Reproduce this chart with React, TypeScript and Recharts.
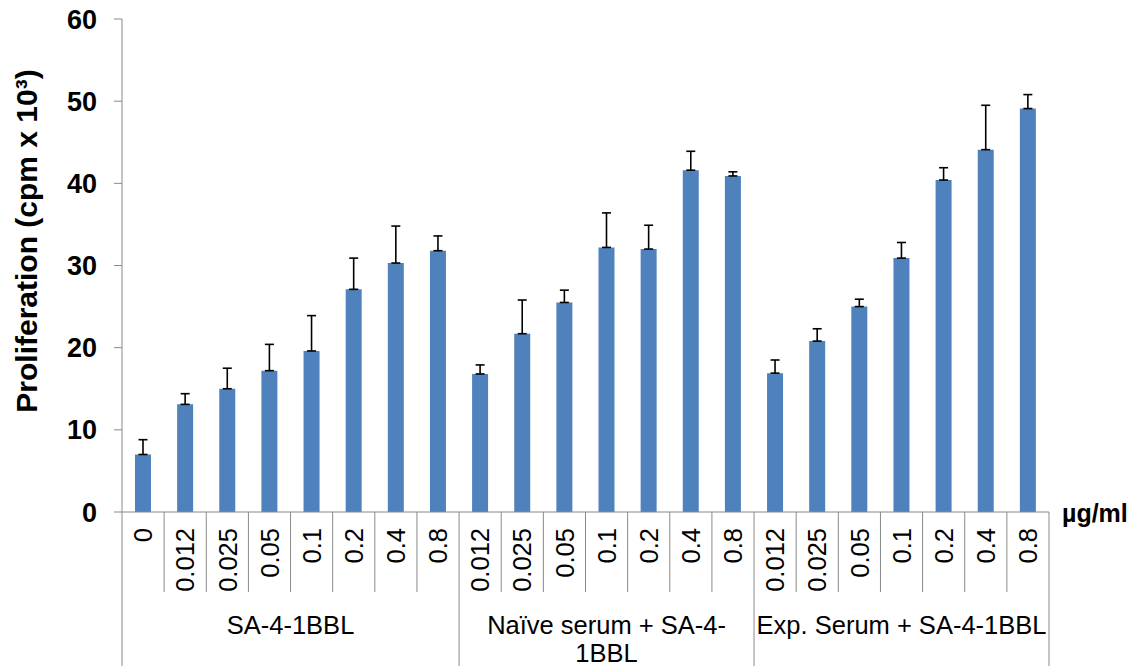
import React from "react";
import { BarChart, Bar, XAxis, YAxis, ErrorBar } from "recharts";

const categories = ["0", "0.012", "0.025", "0.05", "0.1", "0.2", "0.4", "0.8", "0.012", "0.025", "0.05", "0.1", "0.2", "0.4", "0.8", "0.012", "0.025", "0.05", "0.1", "0.2", "0.4", "0.8"];
const values = [7.0, 13.1, 15.0, 17.2, 19.6, 27.1, 30.3, 31.8, 16.8, 21.7, 25.5, 32.2, 32.0, 41.6, 40.9, 16.9, 20.8, 25.0, 30.9, 40.4, 44.1, 49.1];
const errors = [1.8, 1.3, 2.5, 3.2, 4.3, 3.8, 4.5, 1.8, 1.1, 4.1, 1.5, 4.2, 2.9, 2.3, 0.5, 1.6, 1.5, 0.9, 1.9, 1.5, 5.4, 1.7];
const groupStarts = [0, 8, 15];
const groupSizes = [8, 7, 7];
const groupLabels = [["SA-4-1BBL"], ["Naïve serum + SA-4-", "1BBL"], ["Exp. Serum + SA-4-1BBL"]];
const yTicks = [0, 10, 20, 30, 40, 50, 60];
const yTitle = "Proliferation (cpm x 10³)";
const unitLabel = "µg/ml";

const data = categories.map((c, i) => ({ id: String(i), label: c, value: values[i], err: [0, errors[i]] }));

const W = 1141;
const H = 666;
const LEFT = 122;
const RIGHT = 92;
const TOP = 19;
const XH = 154;
const BAND = (W - LEFT - RIGHT) / categories.length;
const FONT = "'Liberation Sans', Arial, sans-serif";
const GRID = "#898989";

const CatTick = (props: any) => {
  const { x, y, payload } = props;
  const i = payload.index ?? Number(payload.value);
  const half = payload.offset && payload.offset > 0 ? payload.offset : BAND / 2;
  const left = x - half;
  const gi = groupStarts.indexOf(i);
  const isStart = gi >= 0;
  const isLast = i === categories.length - 1;
  const textTop = y + 16;
  const gCenter = isStart ? left + groupSizes[gi] * half : 0;
  return (
    <g>
      <line x1={left} y1={y} x2={left} y2={isStart ? H : y + 80} stroke={GRID} strokeWidth={1} />
      {isLast && <line x1={x + half} y1={y} x2={x + half} y2={H} stroke={GRID} strokeWidth={1} />}
      <text
        x={x}
        y={textTop}
        dy="0.36em"
        transform={`rotate(-90, ${x}, ${textTop})`}
        textAnchor="end"
        fontSize={25.5}
        fontFamily={FONT}
        fill="#000"
      >
        {categories[i]}
      </text>
      {isStart && (
        <text x={gCenter} y={y + 122} textAnchor="middle" fontSize={25.5} fontFamily={FONT} fill="#000">
          {groupLabels[gi].map((l, k) => (
            <tspan key={k} x={gCenter} dy={k === 0 ? 0 : 28}>
              {l}
            </tspan>
          ))}
        </text>
      )}
      {isLast && (
        <text x={x + half + 13} y={y + 10} fontSize={25} fontWeight="bold" fontFamily={FONT} fill="#000">
          {unitLabel}
        </text>
      )}
    </g>
  );
};

const YTitle = () => (
  <text
    x={37}
    y={241}
    transform="rotate(-90, 37, 241)"
    textAnchor="middle"
    fontSize={30}
    fontWeight="bold"
    fontFamily={FONT}
    fill="#000"
  >
    {yTitle}
  </text>
);

export default function App() {
  return (
    <div style={{ position: "absolute", left: 0, top: 0, width: W, height: H, background: "#fff" }}>
      <BarChart width={W} height={H} data={data} margin={{ top: TOP, right: RIGHT, bottom: 0, left: 0 }} barSize={16}>
        <XAxis
          dataKey="id"
          height={XH}
          interval={0}
          tickLine={false}
          tickSize={0}
          tickMargin={0}
          axisLine={{ stroke: GRID, strokeWidth: 1 }}
          tick={<CatTick />}
        />
        <YAxis
          width={LEFT}
          domain={[0, 60]}
          ticks={yTicks}
          interval={0}
          tickSize={8}
          tickMargin={17}
          axisLine={{ stroke: GRID, strokeWidth: 1 }}
          tickLine={{ stroke: GRID, strokeWidth: 1 }}
          tick={{ fontSize: 27, fontWeight: "bold", fill: "#000", fontFamily: FONT }}
          label={{ content: () => <YTitle /> }}
        />
        <Bar dataKey="value" fill="#4F81BD" isAnimationActive={false}>
          <ErrorBar dataKey="err" width={4.5} stroke="#000" strokeWidth={1.6} isAnimationActive={false} />
        </Bar>
      </BarChart>
    </div>
  );
}
